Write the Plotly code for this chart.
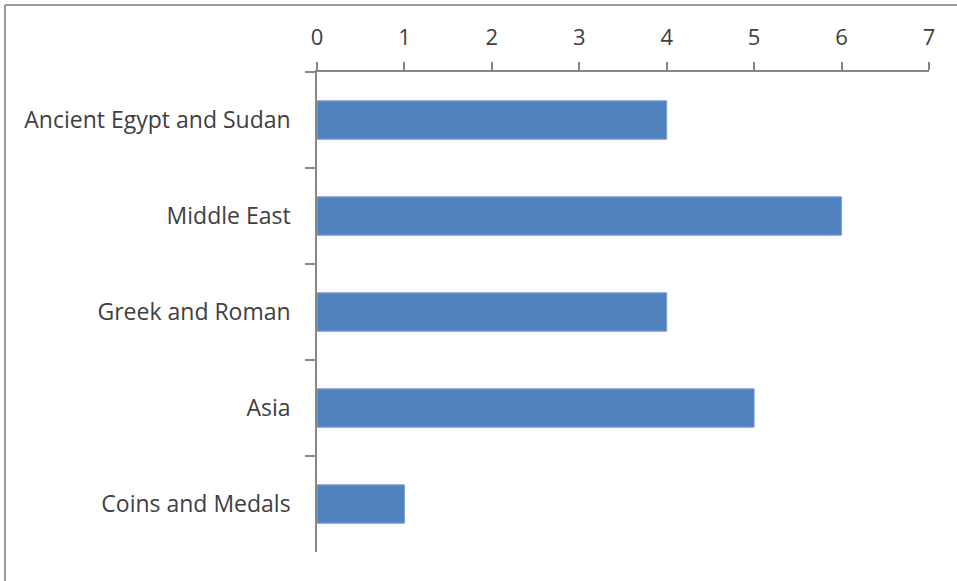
import plotly.graph_objects as go

categories = ["Ancient Egypt and Sudan", "Middle East", "Greek and Roman", "Asia", "Coins and Medals"]
values = [4, 6, 4, 5, 1]
x_ticks = [0, 1, 2, 3, 4, 5, 6, 7]

W, H = 957, 581
ML, MR, MT, MB = 317, 28, 72, 29
pw, ph = W - ML - MR, H - MT - MB

def px_x(px):
    return (px - ML) / pw

def px_y(py):
    return (H - MB - py) / ph

fig = go.Figure(go.Bar(
    x=values, y=categories, orientation="h",
    marker=dict(color="#4F81BD", line=dict(color="#7FA5D6", width=1)),
))

fig.update_layout(
    width=W, height=H,
    margin=dict(l=ML, r=MR, t=MT, b=MB),
    paper_bgcolor="white", plot_bgcolor="white",
    bargap=0.6,
    showlegend=False,
    font=dict(family="Open Sans", size=22, color="#404040"),
    xaxis=dict(
        side="top", range=[0, 7], tickvals=x_ticks,
        showgrid=False, zeroline=False,
        showline=True, linecolor="#868686", linewidth=1.5,
        ticks="outside", ticklen=8, tickcolor="#868686", tickwidth=1.5,
        tickfont=dict(size=22, color="#404040"),
        ticklabelstandoff=8,
    ),
    yaxis=dict(
        autorange="reversed",
        showgrid=False, zeroline=False,
        showline=True, linecolor="#868686", linewidth=1.5,
        ticks="outside", ticklen=10, tickcolor="#868686", tickwidth=1.5,
        tickson="boundaries",
        tickfont=dict(size=23, color="#404040"),
        ticklabelstandoff=20,
    ),
    shapes=[
        dict(type="line", xref="paper", yref="paper",
             x0=px_x(5), x1=px_x(960), y0=px_y(5), y1=px_y(5),
             line=dict(color="#9a9a9a", width=2)),
        dict(type="line", xref="paper", yref="paper",
             x0=px_x(5), x1=px_x(5), y0=px_y(5), y1=px_y(585),
             line=dict(color="#9a9a9a", width=2)),
    ],
)

fig.write_html("out.html", config={"displayModeBar": False},
               post_script="document.body.style.margin='0';")
